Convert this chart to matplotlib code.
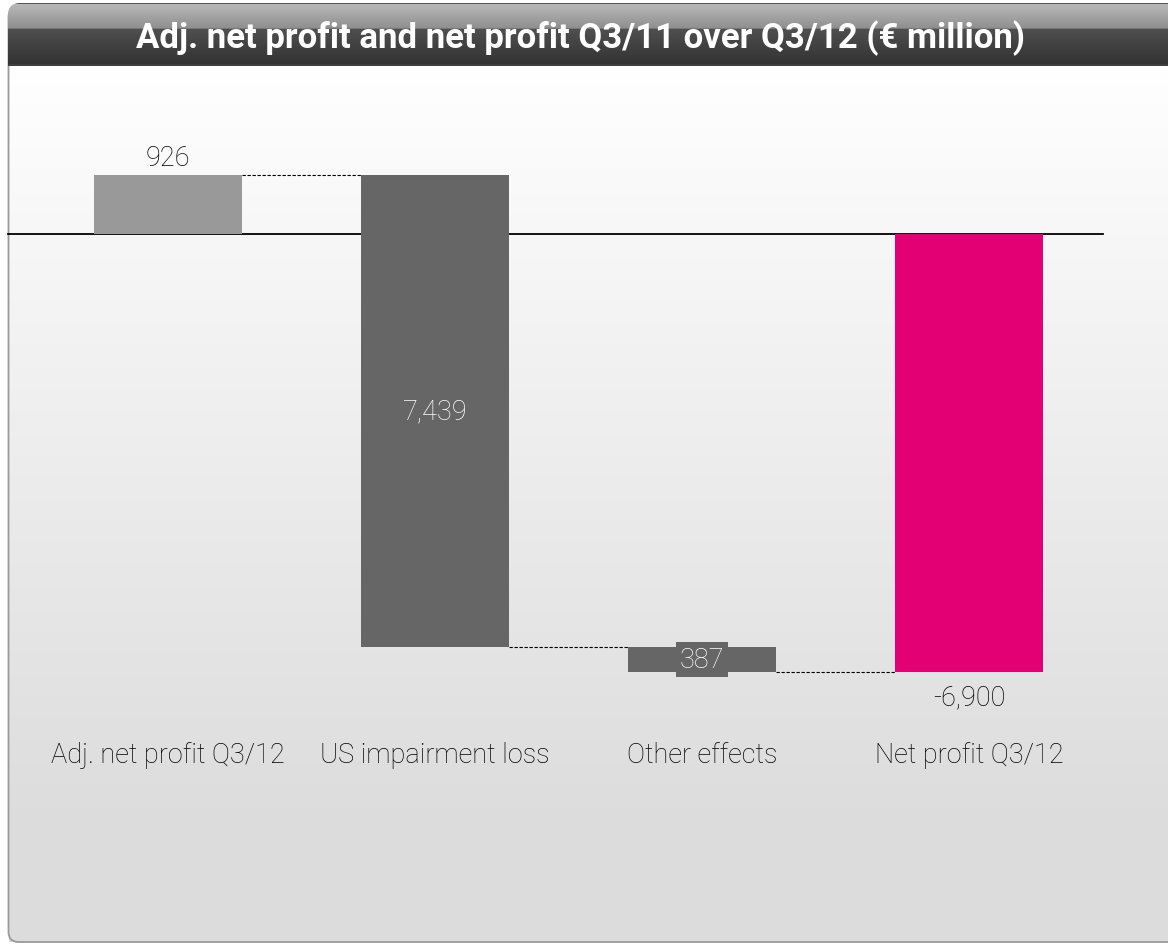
import matplotlib
matplotlib.use('Agg')
import matplotlib.pyplot as plt
from matplotlib.patches import FancyBboxPatch
import numpy as np

# chart data
categories = ['Adj. net profit Q3/12', 'US impairment loss', 'Other effects', 'Net profit Q3/12']
changes = [926, -7439, -387]
total = -6900
labels = ['926', '7,439', '387', '-6,900']
colors = ['#999999', '#666666', '#666666', '#e20074']
title = 'Adj. net profit and net profit Q3/11 over Q3/12 (\u20ac million)'

plt.rcParams['font.family'] = ['Roboto', 'DejaVu Sans']

W, H = 1168, 945
fig = plt.figure(figsize=(W / 100, H / 100), dpi=100)

# background with frame and gradient
bg = fig.add_axes([0, 0, 1, 1])
bg.set_xlim(0, W)
bg.set_ylim(H, 0)
bg.axis('off')
grad = np.concatenate([np.linspace(1.0, 0.865, 220), np.full(36, 0.865)]).reshape(-1, 1)
bg.imshow(np.dstack([grad] * 3), extent=[9, W + 20, H - 2, 60], aspect='auto', zorder=0)
frame = FancyBboxPatch((8.5, 8), W + 40, H - 10, boxstyle='round,pad=0,rounding_size=10',
                       fc='none', ec='#9a9a9a', lw=1.3, zorder=1)
bg.add_patch(frame)

# title bar gradient
tb = np.concatenate([[0.33], np.linspace(0.72, 0.56, 25), np.linspace(0.31, 0.20, 36), [0.25, 0.25]]).reshape(-1, 1)
im = bg.imshow(np.dstack([tb] * 3), extent=[8, W + 20, 67, 4], aspect='auto', zorder=2)
clip = FancyBboxPatch((8, 4), W + 40, 80, boxstyle='round,pad=0,rounding_size=12',
                      fc='none', ec='none', transform=bg.transData)
bg.add_patch(clip)
im.set_clip_path(clip)
bg.text(580, 38, title, color='white', fontsize=25, fontweight='bold',
        ha='center', va='center', zorder=3)

# main waterfall axes
ax = fig.add_axes([0, 0, 1, (H - 70) / H])
ax.patch.set_alpha(0)
ax.axis('off')
ax.set_xlim(-0.629, 3.745)
ax.set_ylim(-11190, 2600)

x = np.arange(len(categories))
width = 0.555

starts = [0]
ends = [changes[0]]
for c in changes[1:]:
    starts.append(ends[-1])
    ends.append(ends[-1] + c)
starts.append(0)
ends.append(total)

bottoms = [min(s, e) for s, e in zip(starts, ends)]
heights = [abs(e - s) for s, e in zip(starts, ends)]
ax.bar(x, heights, width, bottom=bottoms, color=colors, zorder=3)

ax.axhline(0, xmin=(-0.599 + 0.629) / 4.374, xmax=(3.502 + 0.629) / 4.374, color='black', lw=1.3, zorder=2)

# connectors
for i in range(len(categories) - 1):
    ax.plot([x[i] + width / 2, x[i + 1] - width / 2], [ends[i], ends[i]],
            ls=(0, (3, 1.5)), color='black', lw=0.8, zorder=2)

fs = 19.5
ax.text(x[0], ends[0] + 280, labels[0], ha='center', va='center', fontsize=fs, color='black', fontweight='light')
ax.text(x[1], (starts[1] + ends[1]) / 2, labels[1], ha='center', va='center', fontsize=fs, color='white',
        fontweight='light', zorder=4)
ax.text(x[2], (starts[2] + ends[2]) / 2, labels[2], ha='center', va='center', fontsize=fs, color='white',
        fontweight='light', zorder=4, bbox=dict(boxstyle='square,pad=0.15', fc='#666666', ec='none'))
ax.text(x[3], ends[3] - 400, labels[3], ha='center', va='center', fontsize=fs, color='black', fontweight='light')

for xi, cat in zip(x, categories):
    ax.text(xi, -8200, cat, ha='center', va='center', fontsize=fs, color='black', fontweight='light')

fig.savefig('out.png', dpi=100)
